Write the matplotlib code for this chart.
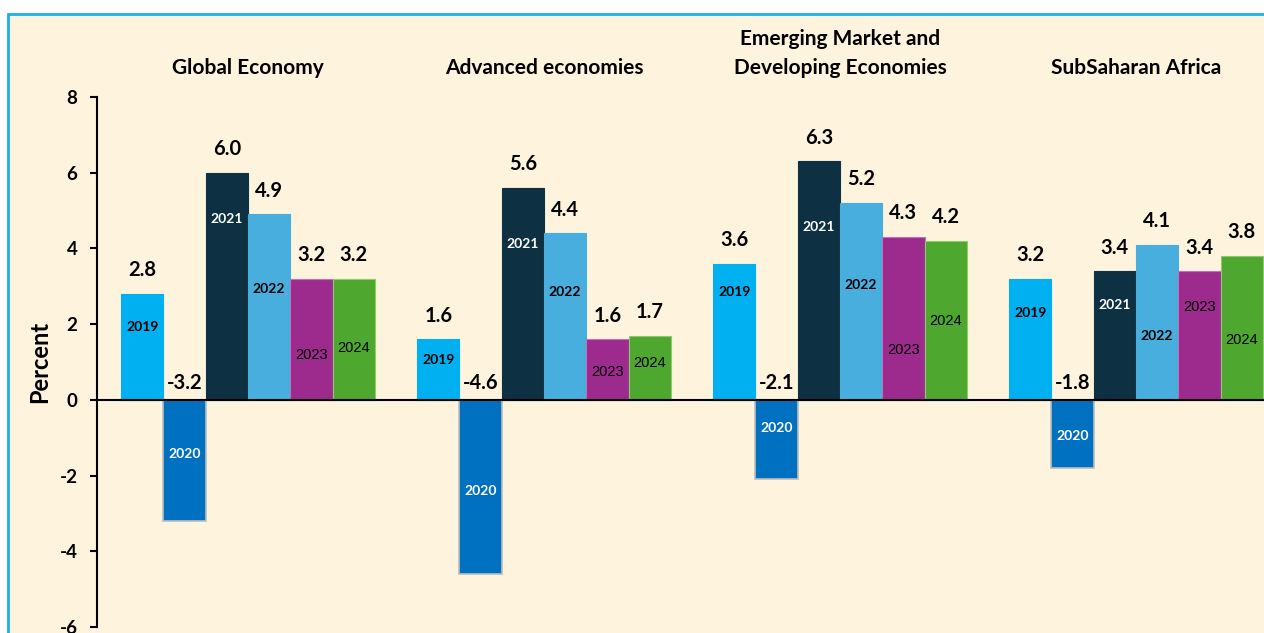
import matplotlib
matplotlib.use("Agg")
import matplotlib.pyplot as plt
import matplotlib.patches as mpatches
import matplotlib.transforms as mtrans
import numpy as np

# ---- data ----
regions = ["Global Economy", "Advanced economies",
           "Emerging Market and\nDeveloping Economies", "SubSaharan Africa"]
years = ["2019", "2020", "2021", "2022", "2023", "2024"]
global_economy = [2.8, -3.2, 6.0, 4.9, 3.2, 3.2]
advanced = [1.6, -4.6, 5.6, 4.4, 1.6, 1.7]
emde = [3.6, -2.1, 6.3, 5.2, 4.3, 4.2]
ssa = [3.2, -1.8, 3.4, 4.1, 3.4, 3.8]
yticks = [-6, -4, -2, 0, 2, 4, 6, 8]

# ---- layout / style ----
colors = ["#00B0F0", "#0070C0", "#0D3042", "#47AEDE", "#9D2B8E", "#4EA72E"]
edgecolors = ["#00B0F0", "#BDBDBD", "#0D3042", "#47AEDE", "#C070B8", "#8CCB6E"]
year_txt_color = ["black", "white", "white", "black", "black", "black"]
year_txt_weight = ["bold", "bold", "bold", "bold", "normal", "normal"]
# vertical placement of the year tags inside bars (data units), as in the reference
year_tag_y = [
    [1.93, -1.42, 4.78, 2.93, 1.19, 1.37],
    [1.06, -2.40, 4.12, 2.86, 0.74, 0.98],
    [2.85, -0.74, 4.56, 3.03, 1.32, 2.08],
    [2.30, -0.95, 2.51, 1.69, 2.45, 1.58],
]

W, H = 1264, 633
fig = plt.figure(figsize=(W / 100, H / 100), dpi=100, facecolor="white")

BOLD = ["Lato", "DejaVu Sans"]
NARROW = ["Liberation Sans Narrow", "Liberation Sans", "DejaVu Sans"]

# panel frame
frame = mpatches.Rectangle((8 / W, -0.1), 1.5, (H - 14) / H + 0.1,
                           transform=fig.transFigure, facecolor="#FEF3DD",
                           edgecolor="#1CB0E8", linewidth=2, zorder=-10)
fig.patches.append(frame)

ax = fig.add_axes([97 / W, 6 / H, (W - 97) / W, (H - 97 - 6) / H])
ax.set_facecolor("none")
ax.set_zorder(1)

data = [global_economy, advanced, emde, ssa]
n = len(years)
bw = 1.0 / 7
x = np.arange(len(regions))

for j in range(n):
    vals = [d[j] for d in data]
    pos = x + (j - (n - 1) / 2) * bw
    ax.bar(pos, vals, width=bw, color=colors[j], edgecolor=edgecolors[j],
           linewidth=1.2 if j == 1 else 0.8, zorder=2)
    for g in range(len(regions)):
        v = vals[g]
        if v >= 0:
            ax.text(pos[g], v + 0.36, f"{v:.1f}", ha="center", va="bottom",
                    fontsize=14.5, fontweight="bold", family=BOLD, zorder=4)
        else:
            ax.text(pos[g], 0.18, f"{v:.1f}", ha="center", va="bottom",
                    fontsize=14.5, fontweight="bold", family=BOLD, zorder=4)
        fam = BOLD if year_txt_weight[j] == "bold" else NARROW
        ax.text(pos[g], year_tag_y[g][j], years[j], ha="center", va="center",
                fontsize=10 if year_txt_weight[j] == "bold" else 10.5,
                fontweight=year_txt_weight[j], color=year_txt_color[j],
                family=fam, zorder=4)

ax.axhline(0, color="black", linewidth=1.5, zorder=3)

ax.set_xlim((97 - 248) / 296, (W - 248) / 296)
ax.set_ylim(-6, 8)
ax.set_yticks(yticks)
ax.set_yticklabels([str(t) for t in yticks])
ax.set_xticks([])
for s in ["top", "right", "bottom"]:
    ax.spines[s].set_visible(False)
ax.spines["left"].set_linewidth(1.5)
ax.tick_params(axis="y", length=5, width=1.5, pad=9, labelsize=13.5)
for lab in ax.get_yticklabels():
    lab.set_fontweight("bold")
    lab.set_family(BOLD)

ax.set_ylabel("Percent", fontsize=17, fontweight="bold", family=BOLD)
ax.yaxis.set_label_coords((51 - 97) / (W - 97), 0.5)

tr = mtrans.blended_transform_factory(ax.transData, fig.transFigure)
for g, name in enumerate(regions):
    ax.text(x[g], (H - 74) / H, name, transform=tr, ha="center",
            va="baseline", fontsize=15, fontweight="bold", family=BOLD,
            linespacing=1.55, clip_on=False)

fig.savefig("out.png", dpi=100, facecolor="white")
